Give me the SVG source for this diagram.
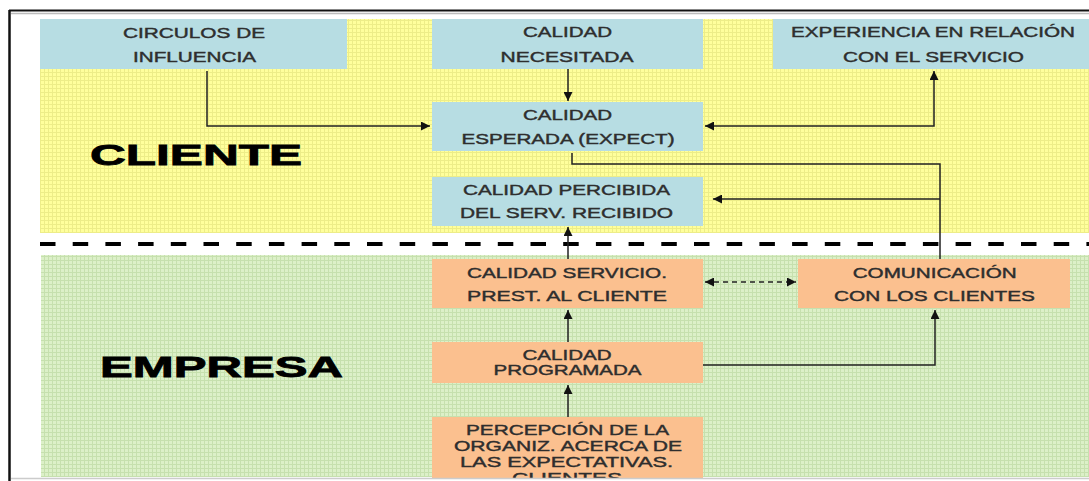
<svg xmlns="http://www.w3.org/2000/svg" width="1089" height="481" viewBox="0 0 1089 481">
<defs>
<pattern id="gy" width="4" height="4" patternUnits="userSpaceOnUse">
<rect width="4" height="4" fill="#ffff9c"/>
<path d="M0 0.5H4M0.5 0V4" stroke="#eded88" stroke-width="1"/>
</pattern>
<pattern id="gg" width="4" height="4" patternUnits="userSpaceOnUse">
<rect width="4" height="4" fill="#dcf0c8"/>
<path d="M0 0.5H4M0.5 0V4" stroke="#c6e0ae" stroke-width="1"/>
</pattern>
<marker id="ah" viewBox="0 0 10 10" refX="10" refY="5" markerWidth="10" markerHeight="9" markerUnits="userSpaceOnUse" orient="auto-start-reverse">
<path d="M0 0L10 5L0 10z" fill="#111"/>
</marker>
<style>
.blue{fill:#b7dde3}
.orange{fill:#fbc08f}
.t{font-family:"Liberation Sans",Arial,sans-serif;font-size:14px;fill:#2e2e2e;stroke:#2e2e2e;stroke-width:0.4;text-anchor:middle}
.big{font-family:"Liberation Sans",Arial,sans-serif;font-size:30px;font-weight:bold;fill:#000;stroke:#000;stroke-width:0.8}
.c{fill:none;stroke:#222;stroke-width:1.5}
.d{fill:none;stroke:#222;stroke-width:1.3;stroke-dasharray:5 4}
</style>
</defs>
<rect width="1089" height="481" fill="#fff"/>
<!-- frame -->
<path d="M9 10.5H1089" stroke="#111" stroke-width="2"/>
<path d="M11 13.5H1089" stroke="#bbb" stroke-width="1.5"/>
<path d="M9.5 10V481" stroke="#111" stroke-width="2.5"/>
<!-- backgrounds -->
<rect x="40" y="19" width="1049" height="214" fill="url(#gy)"/>
<rect x="41" y="255" width="1048" height="222" fill="url(#gg)"/>
<path d="M40 244H1089" stroke="#000" stroke-width="4" stroke-dasharray="15.5 17.2"/>
<text class="big" x="90" y="165" textLength="212" lengthAdjust="spacingAndGlyphs">CLIENTE</text>
<text class="big" x="100" y="377" textLength="243" lengthAdjust="spacingAndGlyphs">EMPRESA</text>
<!-- nodes -->
<g id="circulos">
<rect class="blue" x="40" y="19" width="307" height="50"/>
<text class="t" x="194" y="37.7" textLength="142" lengthAdjust="spacingAndGlyphs">CIRCULOS DE</text>
<text class="t" x="194.5" y="61.7" textLength="123" lengthAdjust="spacingAndGlyphs">INFLUENCIA</text>
</g>
<g id="necesitada">
<rect class="blue" x="432" y="19" width="271" height="50"/>
<text class="t" x="567.5" y="37.3" textLength="89" lengthAdjust="spacingAndGlyphs">CALIDAD</text>
<text class="t" x="567" y="61.7" textLength="133" lengthAdjust="spacingAndGlyphs">NECESITADA</text>
</g>
<g id="experiencia">
<rect class="blue" x="773" y="19" width="316" height="50"/>
<text class="t" x="933" y="37.3" textLength="284" lengthAdjust="spacingAndGlyphs">EXPERIENCIA EN RELACIÓN</text>
<text class="t" x="933.5" y="61.7" textLength="181" lengthAdjust="spacingAndGlyphs">CON EL SERVICIO</text>
</g>
<g id="esperada">
<rect class="blue" x="432" y="102" width="271" height="49"/>
<text class="t" x="567.5" y="120" textLength="89" lengthAdjust="spacingAndGlyphs">CALIDAD</text>
<text class="t" x="568" y="143.5" textLength="213" lengthAdjust="spacingAndGlyphs">ESPERADA (EXPECT)</text>
</g>
<g id="percibida">
<rect class="blue" x="432" y="177" width="271" height="49"/>
<text class="t" x="566.5" y="195" textLength="207" lengthAdjust="spacingAndGlyphs">CALIDAD PERCIBIDA</text>
<text class="t" x="566.5" y="218.3" textLength="213" lengthAdjust="spacingAndGlyphs">DEL SERV. RECIBIDO</text>
</g>
<g id="servicio">
<rect class="orange" x="432" y="259" width="271" height="49"/>
<text class="t" x="567" y="278.3" textLength="200" lengthAdjust="spacingAndGlyphs">CALIDAD SERVICIO.</text>
<text class="t" x="567" y="301" textLength="200" lengthAdjust="spacingAndGlyphs">PREST. AL CLIENTE</text>
</g>
<g id="comunicacion">
<rect class="orange" x="798" y="259" width="272" height="49"/>
<text class="t" x="934.7" y="277.7" textLength="164" lengthAdjust="spacingAndGlyphs">COMUNICACIÓN</text>
<text class="t" x="934.5" y="301" textLength="201" lengthAdjust="spacingAndGlyphs">CON LOS CLIENTES</text>
</g>
<g id="programada">
<rect class="orange" x="432" y="342" width="271" height="41"/>
<text class="t" x="567" y="360" textLength="89" lengthAdjust="spacingAndGlyphs">CALIDAD</text>
<text class="t" x="567.5" y="375" textLength="148" lengthAdjust="spacingAndGlyphs">PROGRAMADA</text>
</g>
<g id="percepcion">
<rect class="orange" x="432" y="417" width="271" height="61"/>
<text class="t" x="567.5" y="435" textLength="203" lengthAdjust="spacingAndGlyphs">PERCEPCIÓN DE LA</text>
<text class="t" x="568" y="451" textLength="228" lengthAdjust="spacingAndGlyphs">ORGANIZ. ACERCA DE</text>
<text class="t" x="566.5" y="466.7" textLength="213" lengthAdjust="spacingAndGlyphs">LAS EXPECTATIVAS.</text>
<text class="t" x="567" y="482.5" textLength="110" lengthAdjust="spacingAndGlyphs">CLIENTES</text>
</g>
<rect x="11" y="478" width="1078" height="3" fill="#fff"/>
<path d="M11 478.5H1089" stroke="#ccc" stroke-width="1.5"/>
<!-- connectors -->
<g id="connectors">
<path class="c" d="M207 71V126H430" marker-end="url(#ah)"/>
<path class="c" d="M568 69V101" marker-end="url(#ah)"/>
<path class="c" d="M705 126H934V71" marker-start="url(#ah)" marker-end="url(#ah)"/>
<path class="c" d="M572 153V164H940V259"/>
<path class="c" d="M940 199H713" marker-end="url(#ah)"/>
<path class="c" d="M568 259V227" marker-end="url(#ah)"/>
<path class="d" d="M705 282H796" marker-start="url(#ah)" marker-end="url(#ah)"/>
<path class="c" d="M568 342V310" marker-end="url(#ah)"/>
<path class="c" d="M568 417V385" marker-end="url(#ah)"/>
<path class="c" d="M703 365H935V310" marker-end="url(#ah)"/>
</g>
</svg>
